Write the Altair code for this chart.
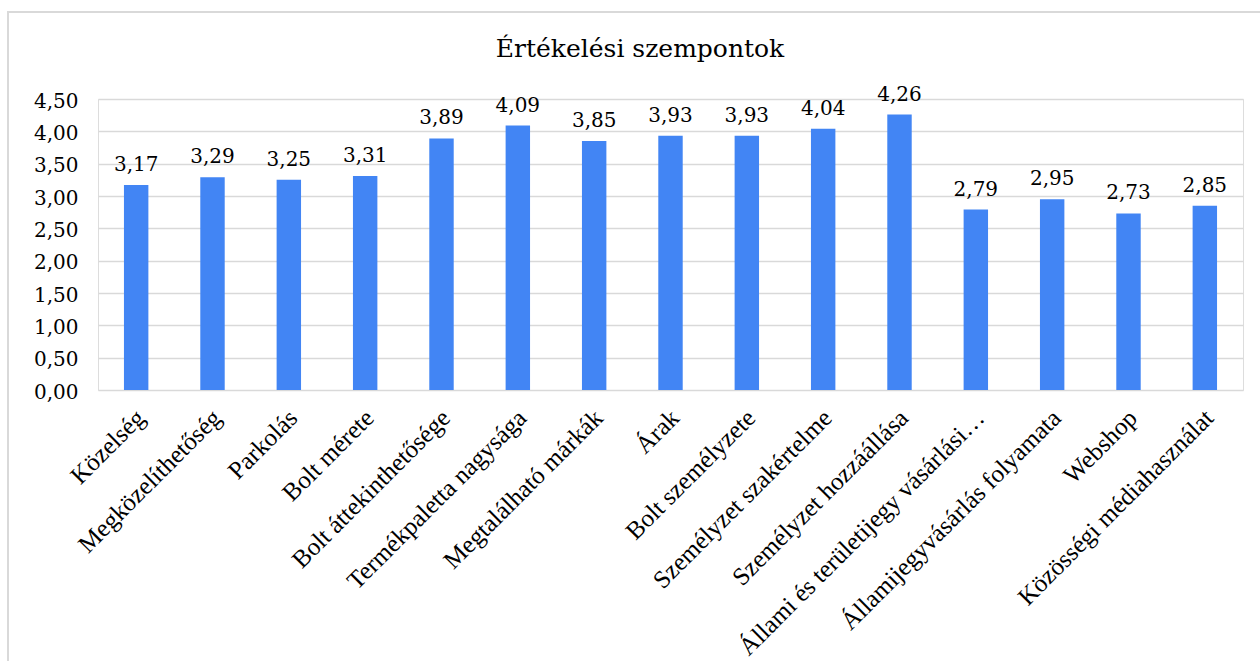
import altair as alt
import pandas as pd

categories = [
    "Közelség", "Megközelíthetőség", "Parkolás", "Bolt mérete",
    "Bolt áttekinthetősége", "Termékpaletta nagysága", "Megtalálható márkák",
    "Árak", "Bolt személyzete", "Személyzet szakértelme",
    "Személyzet hozzáállása", "Állami és területijegy vásárlási…",
    "Államijegyvásárlás folyamata", "Webshop", "Közösségi médiahasználat",
]
values = [3.17, 3.29, 3.25, 3.31, 3.89, 4.09, 3.85, 3.93, 3.93, 4.04,
          4.26, 2.79, 2.95, 2.73, 2.85]
y_ticks = [0, 0.5, 1, 1.5, 2, 2.5, 3, 3.5, 4, 4.5]
labels = [f"{v:.2f}".replace(".", ",") for v in values]

df = pd.DataFrame({"cat": categories, "val": values, "lab": labels})

NUMFONT = "DejaVu Serif"
CATFONT = "Liberation Serif"

x = alt.X("cat:N", sort=categories, title=None,
          scale=alt.Scale(paddingInner=0.68, paddingOuter=0.34),
          axis=alt.Axis(labelAngle=315, labelAlign="right", labelBaseline="top",
                        labelFont=CATFONT, labelFontSize=25, labelColor="#000000",
                        labelPadding=15, labelOffset=-4, ticks=False, domain=False,
                        grid=False, labelLimit=500, labelOverlap=False))
y = alt.Y("val:Q", title=None,
          scale=alt.Scale(domain=[0, 4.5], nice=False),
          axis=alt.Axis(values=y_ticks, labelOverlap=False,
                        labelExpr="replace(format(datum.value, '.2f'), '.', ',')",
                        labelFont=NUMFONT, labelFontSize=20, labelColor="#000000",
                        labelPadding=20, labelOffset=2, ticks=False, domain=False,
                        gridColor="#d9d9d9", gridWidth=1.6))

base = alt.Chart(df)
bars = base.mark_bar(color="#4285F4").encode(x=x, y=y)
text = base.mark_text(font=NUMFONT, fontSize=20, color="#000000",
                      baseline="alphabetic", dy=-14).encode(
    x=x, y=y, text="lab:N")

frame = alt.Chart(pd.DataFrame({"a": [1]})).mark_rect(
    fill=None, stroke="#d9d9d9", strokeWidth=2).encode(
    x=alt.value(-90), x2=alt.value(1174), y=alt.value(-87), y2=alt.value(700))

chart = alt.layer(frame, bars, text).properties(
    width=1145, height=291,
    title=alt.TitleParams("Értékelési szempontok", font=NUMFONT, fontSize=25,
                          fontWeight="normal", color="#000000", anchor="middle",
                          frame="bounds", offset=10, dy=61),
    autosize=alt.AutoSizeParams(type="none"),
    padding={"left": 98, "top": 99, "right": 17, "bottom": 271},
).configure_view(stroke=None).configure(background="white")

chart.save("out.html", embed_options={"renderer": "svg", "actions": False})
